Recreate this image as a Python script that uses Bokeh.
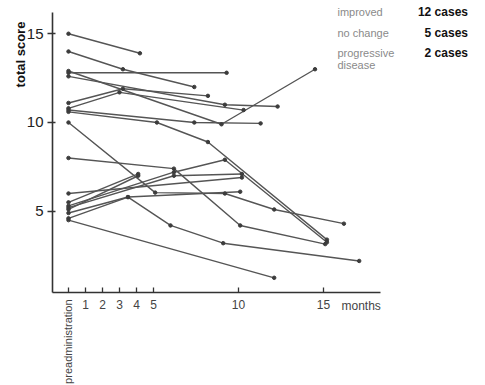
import math
from bokeh.plotting import figure
from bokeh.models import Label, Range1d, FixedTicker
from bokeh.embed import file_html
from bokeh.resources import INLINE

# months after administration (0 = preadministration) and total score for each case
case_months = [
    [0, 4.2],
    [0, 3.2, 7.4],
    [0, 9.3],
    [0, 9.0, 14.5],
    [0, 9.2, 12.3],
    [0, 3.2, 8.2],
    [0, 3.0, 10.3],
    [0, 7.4, 11.3],
    [0, 5.2, 8.2, 15.2],
    [0, 5.1, 9.2, 12.1, 16.2],
    [0, 6.2, 10.1, 15.1],
    [0, 10.2],
    [0, 4.1],
    [0, 6.2, 9.2, 15.2],
    [0, 6.2, 10.2],
    [0, 3.5, 10.1],
    [0, 3.5, 6.0, 9.1, 17.1],
    [0, 12.1],
    [0, 4.1],
]
case_scores = [
    [15.0, 13.9],
    [14.0, 13.0, 12.0],
    [12.8, 12.8],
    [12.9, 9.9, 13.0],
    [12.6, 11.0, 10.9],
    [11.1, 11.9, 11.5],
    [10.8, 11.7, 10.7],
    [10.7, 10.0, 9.95],
    [10.6, 10.0, 8.9, 3.4],
    [10.0, 6.05, 6.0, 5.1, 4.3],
    [8.0, 7.4, 4.2, 3.15],
    [6.0, 6.9],
    [5.5, 7.1],
    [5.3, 7.2, 7.9, 3.25],
    [5.2, 7.0, 7.1],
    [4.9, 5.8, 6.1],
    [4.6, 5.8, 4.2, 3.2, 2.2],
    [4.5, 1.25],
    [5.1, 7.0],
]

x_ticks = [0, 1, 2, 3, 4, 5, 10, 15]
x_tick_labels = ["", "1", "2", "3", "4", "5", "10", "15"]
y_ticks = [5, 10, 15]
legend_names = ["improved", "no change", "progressive\ndisease"]
legend_counts = ["12 cases", "5 cases", "2 cases"]

# frame covers the whole canvas; axes are drawn at fixed data locations
X0, X1 = -4.0, 24.53
Y0, Y1 = -4.817, 16.873
AX_X = -0.941      # where the vertical axis sits (months)
AX_Y = 0.423       # where the horizontal axis sits (score)

W, H = 485, 385
p = figure(width=W, height=H, output_backend="svg", toolbar_location=None,
           x_range=Range1d(X0, X1), y_range=Range1d(Y0, Y1),
           min_border=0, min_border_left=0, min_border_right=0,
           min_border_top=0, min_border_bottom=0)
p.outline_line_color = None
p.grid.visible = False
p.background_fill_color = "white"

LC = "#555555"
p.multi_line(xs=case_months, ys=case_scores, line_color=LC, line_width=1.4)
flat_x = [v for s in case_months for v in s]
flat_y = [v for s in case_scores for v in s]
p.scatter(flat_x, flat_y, size=3.5, color="#3c3c3c")

xa = p.xaxis[0]
xa.fixed_location = AX_Y
xa.ticker = FixedTicker(ticks=x_ticks)
xa.major_label_overrides = {t: l for t, l in zip(x_ticks, x_tick_labels)}
xa.bounds = (AX_X, 18.35)
xa.minor_tick_line_color = None
xa.major_tick_in = 5
xa.major_tick_out = 0
xa.axis_line_color = "#333333"
xa.axis_line_width = 1.6
xa.major_tick_line_color = "#333333"
xa.major_tick_line_width = 1.3
xa.major_label_text_font = "Liberation Sans"
xa.major_label_text_font_size = "12px"
xa.major_label_text_color = "#444444"
xa.major_label_standoff = 8

ya = p.yaxis[0]
ya.fixed_location = AX_X
ya.ticker = FixedTicker(ticks=y_ticks)
ya.bounds = (AX_Y, 16.2)
ya.minor_tick_line_color = None
ya.major_tick_in = 3
ya.major_tick_out = 5
ya.axis_line_color = "#333333"
ya.axis_line_width = 1.6
ya.major_tick_line_color = "#333333"
ya.major_tick_line_width = 1.3
ya.major_label_text_font = "Liberation Sans"
ya.major_label_text_font_size = "15px"
ya.major_label_text_color = "#222222"
ya.major_label_standoff = 4

p.add_layout(Label(x=-2.824, y=13.83, text="total score", angle=math.pi / 2,
                   text_align="center", text_baseline="middle",
                   text_font="Liberation Sans", text_font_style="bold",
                   text_font_size="13px", text_color="#111111"))
p.add_layout(Label(x=0, y=0.028, text="preadministration", angle=math.pi / 2,
                   text_align="right", text_baseline="middle",
                   text_font="Liberation Sans", text_font_size="11px",
                   text_color="#444444"))
p.add_layout(Label(x=16.06, y=-0.36, text="months", text_align="left",
                   text_baseline="middle", text_font="Liberation Sans",
                   text_font_size="12px", text_color="#444444"))

leg_y = [16.2, 15.07, 13.94]
for name, cnt, yy in zip(legend_names, legend_counts, leg_y):
    for k, line in enumerate(name.split("\n")):
        p.add_layout(Label(x=15.82, y=yy - k * 0.7, text=line, text_align="left",
                           text_baseline="middle", text_font="Liberation Sans",
                           text_font_size="11px", text_color="#8a8a8a"))
    p.add_layout(Label(x=23.5, y=yy, text=cnt, text_align="right",
                       text_baseline="middle", text_font="Liberation Sans",
                       text_font_style="bold", text_font_size="12px",
                       text_color="#111111"))

open("out.html", "w").write(file_html(p, INLINE))
